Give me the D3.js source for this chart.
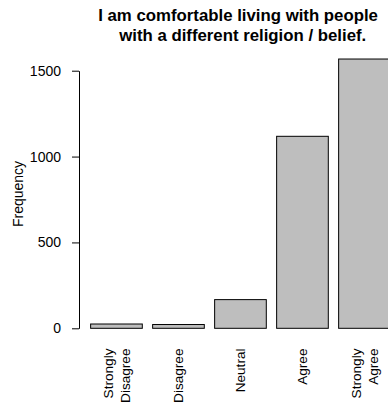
<!DOCTYPE html>
<html><head><meta charset="utf-8">
<script src="https://cdn.jsdelivr.net/npm/d3@7"></script>
<style>html,body{margin:0;padding:0;background:#fff;overflow:hidden}svg{display:block}</style>
</head><body>
<svg id="chart" width="388" height="407"></svg>
<script>
const categories = [["Strongly","Disagree"],["Disagree"],["Neutral"],["Agree"],["Strongly","Agree"]];
const frequencies = [25, 22, 167, 1118, 1568];
const yTicks = [0, 500, 1000, 1500];
const titleLines = ["I am comfortable living with people ", " with a different religion / belief."];
const yLabel = "Frequency";

const svg = d3.select("#chart");
const font = "Liberation Sans, Arial, Helvetica, sans-serif";

// R barplot units: width 1, space 0.2
const x = d3.scaleLinear().domain([0, 6]).range([80.3, 390.3]);
const y = d3.scaleLinear().domain([0, 1500]).range([328.3, 70.7]);

svg.append("g").selectAll("rect").data(frequencies).join("rect")
  .attr("x", (d,i) => x(0.2 + 1.2*i))
  .attr("width", (d,i) => x(1.2 + 1.2*i) - x(0.2 + 1.2*i))
  .attr("y", d => y(d))
  .attr("height", d => y(0) - y(d))
  .attr("fill", "#bebebe")
  .attr("stroke", "#000")
  .attr("stroke-width", 1);

const ax = svg.append("g").attr("transform", "translate(79,0)")
  .call(d3.axisLeft(y).tickValues(yTicks).tickSize(7).tickSizeOuter(0).tickPadding(11).tickFormat(d3.format("d")));
ax.selectAll("path,line").attr("stroke", "#000");
ax.selectAll("text").attr("font-family", font).attr("font-size", 14).attr("fill", "#000");

svg.append("text")
  .attr("transform", "translate(23,194) rotate(-90)")
  .attr("text-anchor", "middle")
  .attr("font-family", font).attr("font-size", 14)
  .text(yLabel);

const xl = svg.append("g").selectAll("g").data(categories).join("g")
  .attr("transform", (d,i) => `translate(${x(0.7 + 1.2*i)},348.5) rotate(-90)`);
xl.each(function(lines){
  const g = d3.select(this);
  const n = lines.length;
  lines.forEach((t,j) => {
    g.append("text")
      .attr("x", 0)
      .attr("y", (j - (n-1)/2) * 17)
      .attr("dy", "0.35em")
      .attr("text-anchor", "end")
      .attr("font-family", font).attr("font-size", 13.6)
      .text(t);
  });
});

svg.append("g").selectAll("text").data(titleLines).join("text")
  .attr("x", 240.4)
  .attr("y", (d,i) => 21 + i*19.6)
  .attr("text-anchor", "middle")
  .style("white-space", "pre")
  .attr("font-family", font).attr("font-size", 16.8).attr("font-weight", "bold")
  .text(d => d);
</script>
</body></html>
